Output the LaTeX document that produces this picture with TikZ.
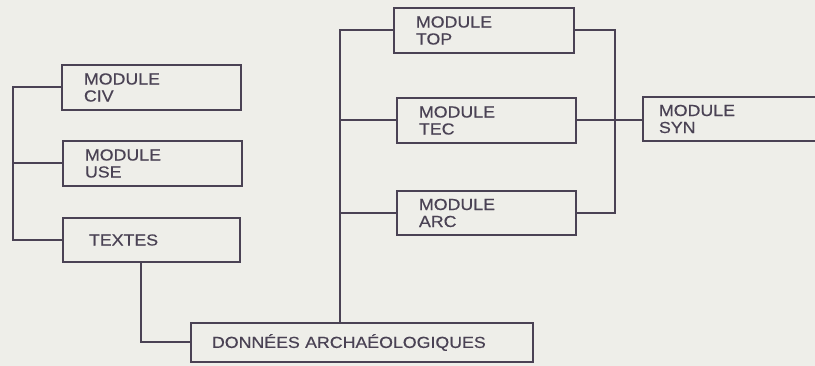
\documentclass[tikz,border=0pt]{standalone}
\usepackage{fontspec}
\setmainfont[FakeStretch=1.11, FakeBold=0.5]{Liberation Sans}
\usetikzlibrary{calc}

\definecolor{ink}{RGB}{74,66,84}
\definecolor{paper}{RGB}{238,238,233}

\tikzset{
  modbox/.style={draw=ink, text=ink, line width=2pt, anchor=north west,
    text width=#1, align=left, inner xsep=22pt, inner ysep=0pt,
    minimum height=45pt, font=\fontsize{16}{17}\selectfont},
  wire/.style={draw=ink, line width=2pt}
}

\begin{document}
\begin{tikzpicture}[x=1pt, y=-1pt]
        % page
        \useasboundingbox (0,0) rectangle (815,366);
        \clip (0,0) rectangle (815,366);
        \fill[paper] (0,0) rectangle (815,366);

        % left group
        \node[modbox=135] (civ) at (61,64) {MODULE\\CIV};
        \node[modbox=135] (use) at (62,140) {MODULE\\USE};
        \node[modbox=133, minimum height=44pt, inner xsep=26pt, text width=125] (textes) at (62,217) {TEXTES};

        % data box
        \node[modbox=300, minimum height=39pt, inner xsep=21pt] (donnees) at (190,322) {DONNÉES ARCHAÉOLOGIQUES};

        % right group
        \node[modbox=136] (top) at (393,7) {MODULE\\TOP};
        \node[modbox=135] (tec) at (396,97) {MODULE\\TEC};
        \node[modbox=135, minimum height=44pt] (arc) at (396,190) {MODULE\\ARC};
        \node[modbox=200, minimum height=44pt, inner xsep=16pt] (syn) at (642,96) {MODULE\\SYN};

        % left trunk
        \draw[wire] (civ.west) -- ++(-48,0) coordinate (ltrunk) |- (textes.west);
        \draw[wire] (use.west) -- (use.west -| ltrunk);

        % textes to donnees
        \draw[wire] ([xshift=79]textes.south west) |- (donnees.west);

        % donnees up to the modules
        \coordinate (rtrunk) at ([xshift=150]donnees.north west);
        \draw[wire] (rtrunk) |- (top.west);
        \draw[wire] (tec.west) -- (tec.west -| rtrunk);
        \draw[wire] (arc.west) -- (arc.west -| rtrunk);

        % modules to syn
        \draw[wire] (top.east) -- ++(40,0) coordinate (strunk) |- (arc.east);
        \draw[wire] (tec.east) -- (tec.east -| syn.west);
    \end{tikzpicture}
\end{document}
